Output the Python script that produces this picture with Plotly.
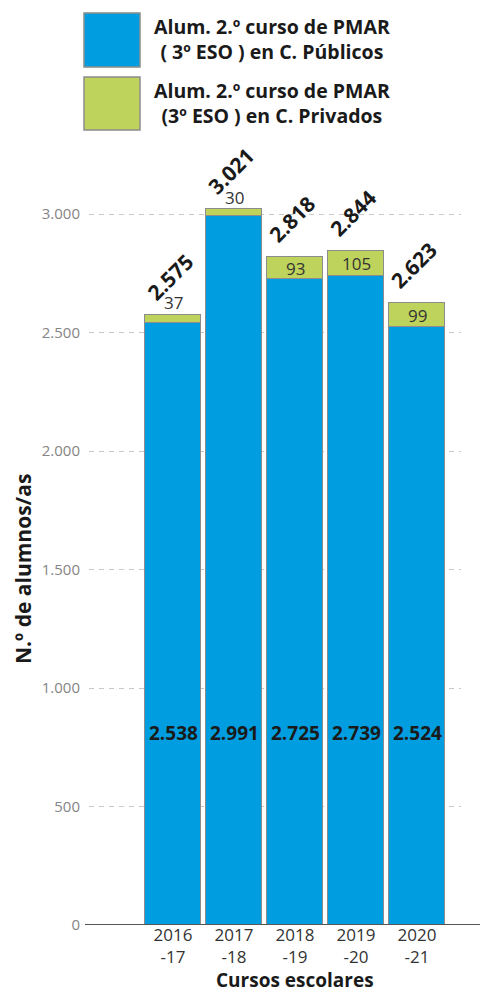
import plotly.graph_objects as go

# ---- data ----
courses = ["2016-17", "2017-18", "2018-19", "2019-20", "2020-21"]
tick_labels = ["2016<br>-17", "2017<br>-18", "2018<br>-19", "2019<br>-20", "2020<br>-21"]
public_students = [2538, 2991, 2725, 2739, 2524]
private_students = [37, 30, 93, 105, 99]
totals = [2575, 3021, 2818, 2844, 2623]
series_public = "Alum. 2.º curso de PMAR<br>( 3º ESO ) en C. Públicos"
series_private = "Alum. 2.º curso de PMAR<br>(3º ESO ) en C. Privados"
y_ticks = [0, 500, 1000, 1500, 2000, 2500, 3000]
x_title = "Cursos escolares"
y_title = "N.º de alumnos/as"

# ---- style ----
W, H = 480, 993
L, R, T, B = 89, 19, 140, 68
PW, PH = W - L - R, H - T - B
BLUE = "#009EE0"
GREEN = "#BDD35B"
OUTLINE = "#8C8C8C"
FONT = "Open Sans"
PX_PER_UNIT = 0.237
Y_MAX = PH / PX_PER_UNIT


def px_x(px):
    return (px - L) / PW


def px_y(py):
    return (H - B - py) / PH


fig = go.Figure()
xs = list(range(len(courses)))
fig.add_trace(go.Bar(x=xs, y=public_students, name=series_public,
                     marker=dict(color=BLUE, line=dict(color=OUTLINE, width=1)),
                     width=0.93, showlegend=False, hoverinfo="skip"))
fig.add_trace(go.Bar(x=xs, y=private_students, name=series_private,
                     marker=dict(color=GREEN, line=dict(color=OUTLINE, width=1)),
                     width=0.93, showlegend=False, hoverinfo="skip"))

annotations = []
for i in xs:
    # totals, rotated
    annotations.append(dict(x=i, y=totals[i], xref="x", yref="y",
                            text=f"{totals[i]:,}".replace(",", "."),
                            textangle=-45, showarrow=False, yshift=38, xshift=-3,
                            font=dict(family=FONT, size=21, color="#1a1a1a", weight="bold")))
    # private values
    inside = private_students[i] >= 60
    annotations.append(dict(x=i,
                            y=public_students[i] + private_students[i] / 2 if inside else totals[i],
                            xref="x", yref="y", text=str(private_students[i]),
                            showarrow=False, yshift=0 if inside else 12,
                            font=dict(family=FONT, size=17, color="#333333")))
    # public values
    annotations.append(dict(x=i, y=810, xref="x", yref="y",
                            text=f"{public_students[i]:,}".replace(",", "."),
                            showarrow=False,
                            font=dict(family=FONT, size=19, color="#1a1a1a", weight="bold")))

# custom legend
shapes = []
for (y0, y1, col, name, ty) in [(13, 67, BLUE, series_public, 39),
                                (77, 130, GREEN, series_private, 103)]:
    shapes.append(dict(type="rect", xref="paper", yref="paper",
                       x0=px_x(84), x1=px_x(140), y0=px_y(y1), y1=px_y(y0),
                       fillcolor=col, line=dict(color="#8C8C8C", width=1.5)))
    annotations.append(dict(x=px_x(272), y=px_y(ty), xref="paper", yref="paper",
                            text=name, showarrow=False, align="center",
                            xanchor="center", yanchor="middle",
                            font=dict(family=FONT, size=19.5, color="#1a1a1a", weight="bold")))

# axis titles
annotations.append(dict(x=px_x(295), y=px_y(980), xref="paper", yref="paper",
                        text=x_title, showarrow=False, xanchor="center", yanchor="middle",
                        borderpad=0,
                        font=dict(family=FONT, size=19, color="#1a1a1a", weight="bold")))
annotations.append(dict(x=px_x(23), y=px_y(569), xref="paper", yref="paper",
                        text=y_title, showarrow=False, textangle=-90,
                        xanchor="center", yanchor="middle",
                        font=dict(family=FONT, size=21, color="#1a1a1a", weight="bold")))

# baseline
shapes.append(dict(type="line", xref="paper", yref="y",
                   x0=px_x(85), x1=px_x(480), y0=0, y1=0,
                   line=dict(color="#555555", width=2)))

fig.update_layout(
    width=W, height=H,
    margin=dict(l=L, r=R, t=T, b=B, pad=0),
    paper_bgcolor="white", plot_bgcolor="white",
    barmode="stack", bargap=0,
    separators=",.",
    font=dict(family=FONT),
    annotations=annotations,
    shapes=shapes,
    xaxis=dict(range=[-1.377, 4.721], tickmode="array", tickvals=xs, ticktext=tick_labels,
               tickfont=dict(family=FONT, size=17, color="#333333"),
               showgrid=False, zeroline=False, showline=False, ticks="",
               ticklabelstandoff=-2,
               automargin=False),
    yaxis=dict(range=[0, Y_MAX], tickmode="array", tickvals=y_ticks,
               tickformat=",d",
               tickfont=dict(family=FONT, size=15, color="#858585"),
               showgrid=True, gridcolor="#C8C8C8", gridwidth=1, griddash="5px,5px",
               zeroline=False, showline=False, ticks="", ticklabelstandoff=8,
               automargin=False),
)

fig.write_html("out.html", config={"displayModeBar": False},
               post_script="document.body.style.margin='0';document.body.style.overflow='hidden';")
